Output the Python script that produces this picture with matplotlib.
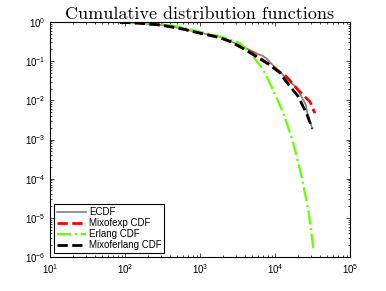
import numpy as np
import matplotlib
matplotlib.use("Agg")
import matplotlib.pyplot as plt
from matplotlib.ticker import NullFormatter

# values (survival / complementary CDF, log-log)
ecdf_x = [80, 150, 293, 540, 1000, 1850, 2500, 3800, 5140, 6000, 6800, 7700, 9000, 11700, 14300, 19450, 25900, 27000, 31400]
ecdf_y = [0.98, 0.94, 0.85, 0.70, 0.53, 0.42, 0.33, 0.23, 0.175, 0.15, 0.138, 0.118, 0.085, 0.054, 0.035, 0.021, 0.0076, 0.0047, 0.0019]

mixexp_x = [86, 150, 293, 540, 1000, 1850, 2500, 3800, 5000, 7500, 10500, 14300, 20500, 29300, 34000]
mixexp_y = [0.98, 0.94, 0.84, 0.69, 0.52, 0.40, 0.32, 0.21, 0.16, 0.095, 0.06, 0.04, 0.018, 0.0092, 0.0047]

erlang_x = [86, 150, 293, 540, 1000, 1850, 3400, 5140, 6990, 9490, 12900, 16700, 18500, 22700, 27800, 32400]
erlang_y = [0.99, 0.97, 0.9, 0.75, 0.56, 0.43, 0.29, 0.13, 0.06, 0.018, 0.0047, 0.0011, 5.4e-4, 1.1e-4, 1.6e-5, 1.7e-6]

mixerl_x = [86, 150, 293, 540, 1000, 1850, 2500, 3800, 6300, 8600, 11700, 13600, 20500, 26500, 31400]
mixerl_y = [0.98, 0.94, 0.84, 0.69, 0.52, 0.40, 0.32, 0.21, 0.115, 0.08, 0.05, 0.033, 0.0124, 0.0045, 0.0019]

plt.rcParams['font.family'] = ['Liberation Sans', 'DejaVu Sans']
plt.rcParams['mathtext.fontset'] = 'custom'
plt.rcParams['mathtext.rm'] = 'Liberation Sans'
plt.rcParams['mathtext.it'] = 'Liberation Sans:italic'

fig = plt.figure(figsize=(3.86, 2.91), dpi=100)
ax = fig.add_axes([0.1295, 0.1168, 0.7772, 0.8076])

ax.loglog(ecdf_x, ecdf_y, '-', color='#808080', lw=1.2, label='ECDF')
ax.loglog(mixexp_x, mixexp_y, '--', color='red', lw=2, label='Mixofexp CDF')
ax.loglog(erlang_x, erlang_y, '-.', color='#66ff00', lw=1.6, label='Erlang CDF')
ax.loglog(mixerl_x, mixerl_y, '--', color='black', lw=2, label='Mixoferlang CDF')

ax.set_xlim(10, 1e5)
ax.set_ylim(1e-6, 1)
ax.xaxis.set_minor_formatter(NullFormatter())
ax.yaxis.set_minor_formatter(NullFormatter())
ax.tick_params(which='both', direction='in', top=True, right=True, labelsize=7, width=0.5)
ax.tick_params(which='major', length=3)
ax.tick_params(which='minor', length=1.5)
for s in ax.spines.values():
    s.set_linewidth(0.8)

ax.set_title('Cumulative distribution functions', fontfamily='cmr10', fontsize=13, pad=2)

leg = ax.legend(loc='lower left', fontsize=7, fancybox=False, framealpha=1,
                edgecolor='black', handlelength=3, borderaxespad=0.4,
                labelspacing=0.1, borderpad=0.3, handletextpad=0.3)
leg.get_frame().set_linewidth(0.8)

fig.savefig('out.png', dpi=100)
